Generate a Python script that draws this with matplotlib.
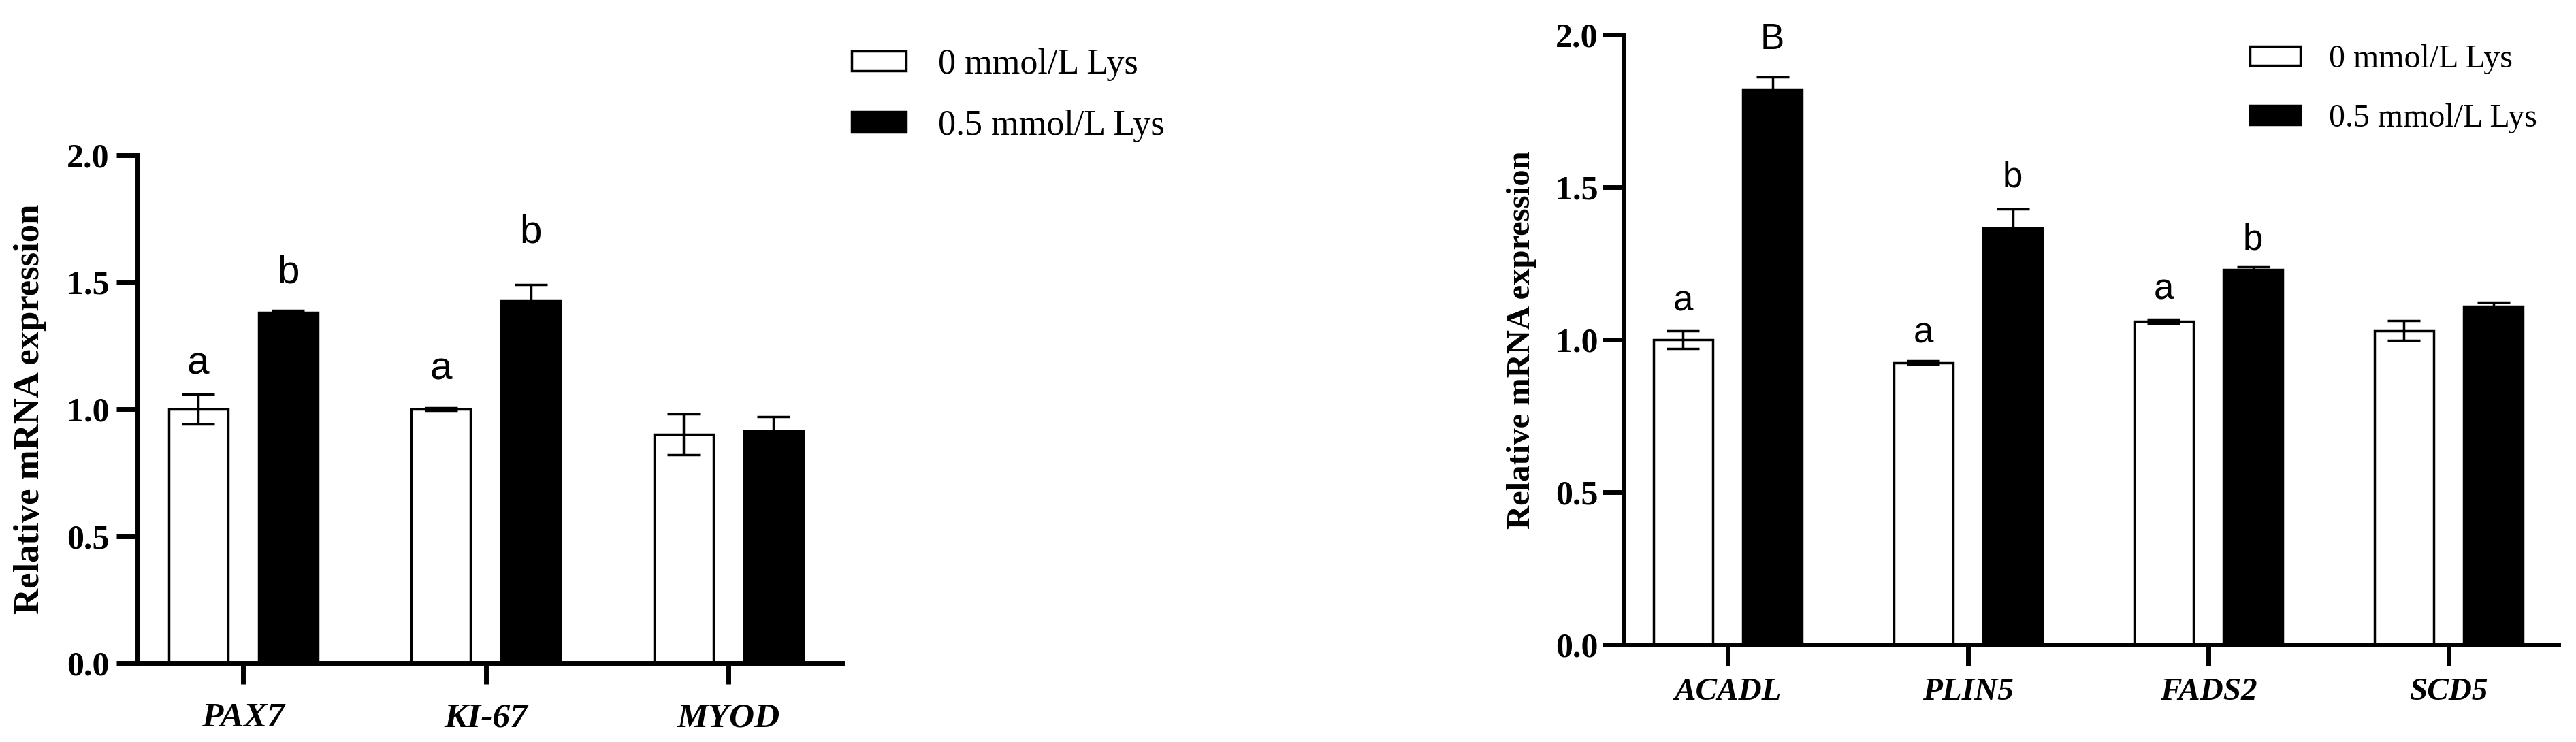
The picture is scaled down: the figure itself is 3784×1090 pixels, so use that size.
import matplotlib
matplotlib.use("Agg")
import matplotlib.pyplot as plt
import numpy as np
from matplotlib.patches import Patch

# ---------------- data ----------------
genes_left = ["PAX7", "KI-67", "MYOD"]
ctrl_left = [1.00, 1.00, 0.90]
ctrl_left_err = [0.058, 0.005, 0.08]
lys_left = [1.38, 1.43, 0.915]
lys_left_err = [0.008, 0.06, 0.055]
ctrl_left_letters = ["a", "a", ""]
ctrl_left_letter_y = [1.139, 1.116, 0.0]
lys_left_letters = ["b", "b", ""]
lys_left_letter_y = [1.498, 1.655, 0.0]

genes_right = ["ACADL", "PLIN5", "FADS2", "SCD5"]
ctrl_right = [1.00, 0.925, 1.06, 1.03]
ctrl_right_err = [0.028, 0.005, 0.006, 0.033]
lys_right = [1.82, 1.365, 1.23, 1.11]
lys_right_err = [0.042, 0.063, 0.009, 0.012]
ctrl_right_letters = ["a", "a", "a", ""]
ctrl_right_letter_y = [1.094, 0.991, 1.133, 0.0]
lys_right_letters = ["B", "b", "b", ""]
lys_right_letter_y = [1.954, 1.502, 1.296, 0.0]

series_labels = ["0 mmol/L Lys", "0.5 mmol/L Lys"]
yticks = [0.0, 0.5, 1.0, 1.5, 2.0]
ylabel = "Relative mRNA expression"

SERIF = "Liberation Serif"
SANS = "Liberation Sans"

W, H = 3784, 1090
fig = plt.figure(figsize=(W / 100, H / 100), dpi=100)


def px_rect(x0, x1, y_top, y_bot):
    return [x0 / W, (H - y_bot) / H, (x1 - x0) / W, (y_bot - y_top) / H]


def panel(rect, genes, c, ce, l, le, cl, cly, ll, lly, xlim, off, bw,
          tickfs, xfs, letfs, tickpad, xpad):
    ax = fig.add_axes(rect)
    x = np.arange(len(genes))
    ax.bar(x - off, c, bw, color="white", edgecolor="black", linewidth=2.5, zorder=2)
    ax.bar(x + off, l, bw, color="black", edgecolor="black", linewidth=2.5, zorder=2)
    ax.errorbar(x - off, c, yerr=ce, fmt="none", ecolor="black", elinewidth=2.5,
                capsize=17, capthick=2.5, zorder=3)
    ax.errorbar(x + off, l, yerr=le, fmt="none", ecolor="black", elinewidth=2.5,
                capsize=17, capthick=2.5, zorder=3)
    for i in range(len(genes)):
        if cl[i]:
            ax.text(x[i] - off, cly[i], cl[i], ha="center", va="baseline",
                    fontsize=letfs, family=SANS)
        if ll[i]:
            ax.text(x[i] + off, lly[i], ll[i], ha="center", va="baseline",
                    fontsize=letfs, family=SANS)
    ax.set_xlim(*xlim)
    ax.set_ylim(0, 2.0)
    ax.set_yticks(yticks)
    ax.set_yticklabels([f"{t:.1f}" for t in yticks], fontsize=tickfs,
                       family=SERIF, fontweight="bold")
    ax.set_xticks(x)
    ax.set_xticklabels(genes, fontsize=xfs, family=SERIF, fontweight="bold",
                       fontstyle="italic")
    for s in ["top", "right"]:
        ax.spines[s].set_visible(False)
    for s in ["left", "bottom"]:
        ax.spines[s].set_linewidth(5)
    ax.tick_params(axis="y", length=22, width=5, pad=tickpad)
    ax.tick_params(axis="x", length=22, width=5, pad=xpad)
    return ax


axL = panel(px_rect(202, 1237, 228, 974), genes_left, ctrl_left, ctrl_left_err,
            lys_left, lys_left_err, ctrl_left_letters, ctrl_left_letter_y,
            lys_left_letters, lys_left_letter_y, (-0.435, 2.468), 0.185, 0.244,
            36, 37, 42, 8, 20)
axR = panel(px_rect(2385, 3758, 51, 947), genes_right, ctrl_right, ctrl_right_err,
            lys_right, lys_right_err, ctrl_right_letters, ctrl_right_letter_y,
            lys_right_letters, lys_right_letter_y, (-0.433, 3.456), 0.186, 0.246,
            36, 34, 38, 5, 13)

fig.text(44 / W, (H - 601) / H, ylabel, rotation=90, ha="center", va="center",
         fontsize=38, family=SERIF, fontweight="bold")
fig.text(2235 / W, (H - 499) / H, ylabel, rotation=90, ha="center", va="center",
         fontsize=35, family=SERIF, fontweight="bold")

handles = [Patch(facecolor="white", edgecolor="black", linewidth=2.5),
           Patch(facecolor="black", edgecolor="black", linewidth=2.5)]

fig.legend(handles, series_labels, loc="upper left",
           bbox_to_anchor=(1251 / W, 1 - 71 / H), frameon=False,
           prop={"family": SERIF, "size": 37.5}, handlelength=1.54,
           handleheight=0.5, handletextpad=0.9, labelspacing=0.8, borderpad=0,
           borderaxespad=0)
fig.legend(handles, series_labels, loc="upper left",
           bbox_to_anchor=(3305 / W, 1 - 65 / H), frameon=False,
           prop={"family": SERIF, "size": 34.5}, handlelength=1.54,
           handleheight=0.5, handletextpad=0.875, labelspacing=0.9, borderpad=0,
           borderaxespad=0)

fig.savefig("out.png", dpi=100, facecolor="white")
